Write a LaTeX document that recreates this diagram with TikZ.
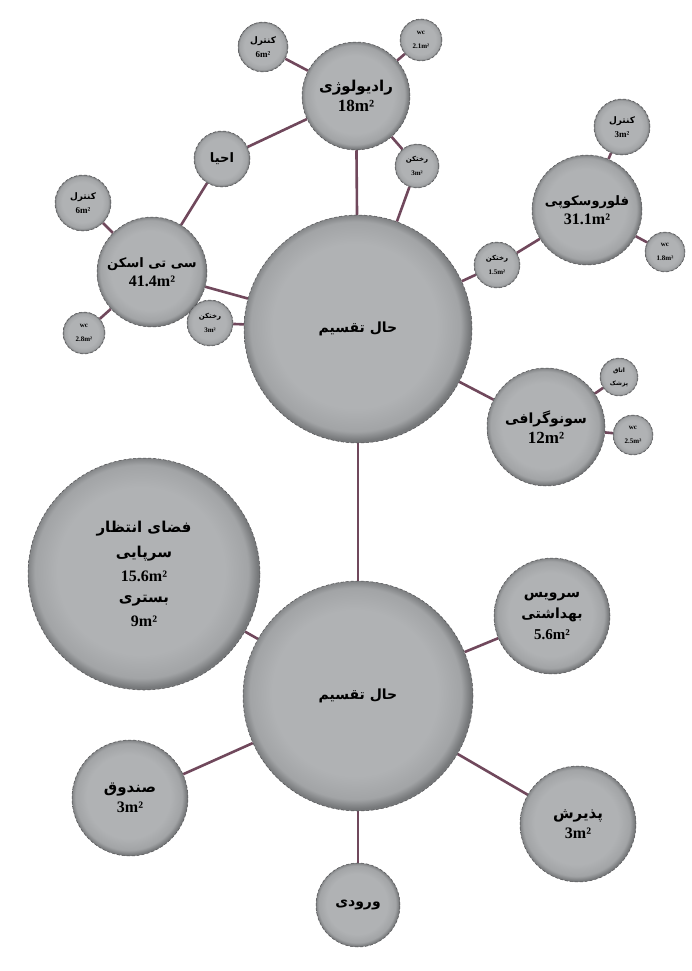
\documentclass[tikz,border=0pt]{standalone}
\usepackage{fontspec}
\setmainfont{Liberation Serif}
\newfontfamily\arabicfont[Script=Arabic]{DejaVu Sans}
\TeXXeTstate=1
\usetikzlibrary{backgrounds}
\definecolor{ballin}{RGB}{176,178,180}
\definecolor{ballmid}{RGB}{162,164,166}
\definecolor{ballout}{RGB}{118,120,122}
\definecolor{rimc}{RGB}{80,80,82}
\definecolor{connc}{RGB}{112,72,92}
\pgfdeclareradialshading{myball}{\pgfpoint{-1bp}{1bp}}{color(0bp)=(ballin); color(18bp)=(ballin); color(23bp)=(ballmid); color(25bp)=(ballout); color(50bp)=(ballout)}
\newcommand{\fa}[1]{{\arabicfont\beginR #1\endR}}
\newcommand{\fs}[1]{\fontsize{#1}{#1}\selectfont}
\begin{document}
\begin{tikzpicture}[x=1pt,y=-1pt,
  ball/.style={circle, draw=rimc, line width=0.5pt, densely dashed, shade, shading=myball, inner sep=0pt, align=center, font=\bfseries},
  conn/.style={draw=connc, line width=2.6pt, solid}]
\useasboundingbox (0,0) rectangle (692,971);
% upper group
\node[ball, minimum size=108pt] (rad) at (356,96) {\fs{15}\fa{رادیولوژی}\\[4pt]\fs{17}18m²};
\node[ball, minimum size=50pt] (radc) at (263,47) {\fs{9}\fa{کنترل}\\[2pt]\fs{9}6m²};
\node[ball, minimum size=42pt] (radw) at (421,40) {\fs{7}wc\\[2pt]\fs{7}2.1m²};
\node[ball, minimum size=44pt] (radr) at (417,166) {\fs{7}\fa{رختکن}\\[2pt]\fs{7}3m²};
\node[ball, minimum size=56pt] (ehya) at (222,159) {\fs{13}\fa{احیا}};
\node[ball, minimum size=228pt] (hal1) at (358,329) {\fs{14}\fa{حال تقسیم}};
\node[ball, minimum size=110pt] (flu) at (587,210) {\fs{13}\fa{فلوروسکوپی}\\[4pt]\fs{16}31.1m²};
\node[ball, minimum size=56pt] (fluc) at (622,127) {\fs{9}\fa{کنترل}\\[2pt]\fs{9}3m²};
\node[ball, minimum size=40pt] (fluw) at (665,252) {\fs{7}wc\\[2pt]\fs{7}1.8m²};
\node[ball, minimum size=46pt] (flur) at (497,265) {\fs{7}\fa{رختکن}\\[2pt]\fs{7}1.5m²};
\node[ball, minimum size=110pt] (ct) at (152,272) {\fs{13}\fa{سی تی اسکن}\\[4pt]\fs{16}41.4m²};
\node[ball, minimum size=56pt] (ctc) at (83,203) {\fs{9}\fa{کنترل}\\[2pt]\fs{9}6m²};
\node[ball, minimum size=42pt] (ctw) at (84,333) {\fs{7}wc\\[2pt]\fs{7}2.8m²};
\node[ball, minimum size=46pt] (ctr) at (210,323) {\fs{7}\fa{رختکن}\\[2pt]\fs{7}3m²};
\node[ball, minimum size=118pt] (sono) at (546,427) {\fs{14}\fa{سونوگرافی}\\[4pt]\fs{17}12m²};
\node[ball, minimum size=38pt] (sonod) at (619,377) {\fs{6}\fa{اتاق}\\[1pt]\fs{6}\fa{پزشک}};
\node[ball, minimum size=40pt] (sonow) at (633,435) {\fs{7}wc\\[2pt]\fs{7}2.5m²};
% lower group
\node[ball, minimum size=232pt] (wait) at (144,574) {\fs{15}\fa{فضای انتظار}\\[9pt]\fs{15}\fa{سرپایی}\\[9pt]\fs{16}15.6m²\\[9pt]\fs{15}\fa{بستری}\\[9pt]\fs{16}9m²};
\node[ball, minimum size=230pt] (hal2) at (358,696) {\fs{14}\fa{حال تقسیم}};
\node[ball, minimum size=116pt] (serv) at (552,616) {\fs{14}\fa{سرویس}\\[6pt]\fs{14}\fa{بهداشتی}\\[6pt]\fs{15}5.6m²};
\node[ball, minimum size=116pt] (pazi) at (578,824) {\fs{15}\fa{پذیرش}\\[5pt]\fs{16}3m²};
\node[ball, minimum size=116pt] (sand) at (130,798) {\fs{15}\fa{صندوق}\\[5pt]\fs{16}3m²};
\node[ball, minimum size=84pt] (vor) at (358,905) {\fs{14}\fa{ورودی}};
\begin{scope}[on background layer]
\draw[conn] (rad) -- (radc);
\draw[conn] (rad) -- (radw);
\draw[conn] (rad) -- (radr);
\draw[conn] (rad) -- (ehya);
\draw[conn] (rad) -- (hal1);
\draw[conn] (radr) -- (hal1);
\draw[conn] (ehya) -- (ct);
\draw[conn] (ct) -- (ctc);
\draw[conn] (ct) -- (ctw);
\draw[conn] (ct) -- (ctr);
\draw[conn] (ct) -- (hal1);
\draw[conn] (ctr) -- (hal1);
\draw[conn] (hal1) -- (flur);
\draw[conn] (flur) -- (flu);
\draw[conn] (flu) -- (fluc);
\draw[conn] (flu) -- (fluw);
\draw[conn] (hal1) -- (sono);
\draw[conn] (sono) -- (sonod);
\draw[conn] (sono) -- (sonow);
\draw[conn] (hal1) -- (hal2);
\draw[conn] (hal2) -- (wait);
\draw[conn] (hal2) -- (serv);
\draw[conn] (hal2) -- (pazi);
\draw[conn] (hal2) -- (sand);
\draw[conn] (hal2) -- (vor);
\end{scope}
\end{tikzpicture}
\end{document}
